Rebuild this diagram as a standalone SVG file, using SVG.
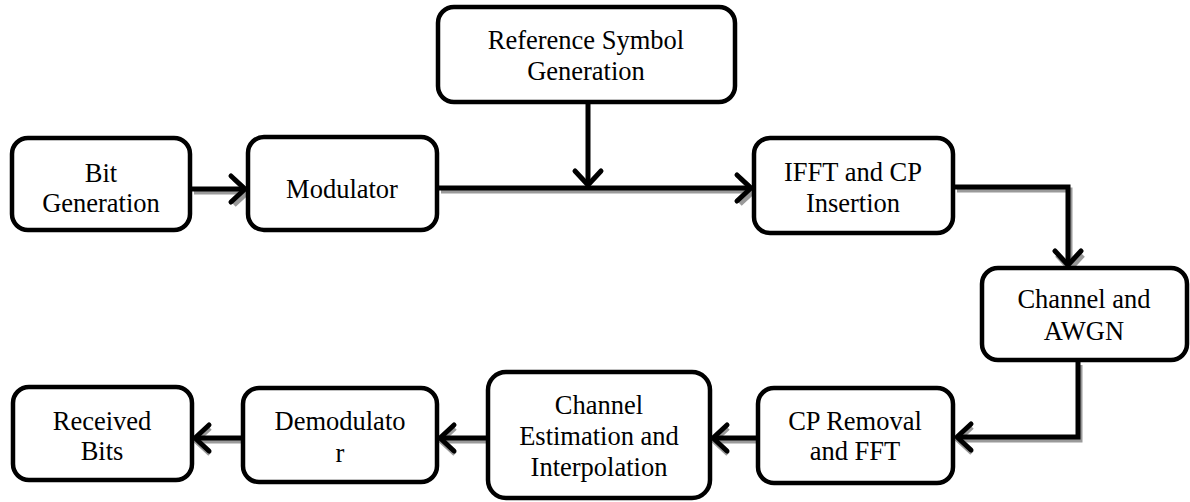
<svg xmlns="http://www.w3.org/2000/svg" width="1190" height="502" viewBox="0 0 1190 502">
<style>
.box{fill:#fff;stroke:#000;stroke-width:4.5}
.t{font-family:"Liberation Serif","Times New Roman",serif;font-size:26.5px;fill:#000;text-anchor:middle}
.ln{fill:none;stroke:#000;stroke-width:5}
.hd{fill:none;stroke:#000;stroke-width:5;stroke-linecap:round;stroke-linejoin:round}
.sh{fill:none;stroke:#9a9a9a;stroke-width:5}
</style>
<rect width="1190" height="502" fill="#fff"/>
<g id="connectors">
<g transform="translate(2,3)">
<path class="sh" d="M192,189 L246,189 M232,176 L246,189 L232,202"/>
<path class="sh" d="M439,188 L752,188 M738,175 L752,188 L738,201"/>
<path class="sh" d="M955,187 L1068,187 L1068,266 M1055,252 L1068,266 L1081,252"/>
<path class="sh" d="M1078,362 L1078,437 L956,437 M970,424 L956,437 L970,450"/>
<path class="sh" d="M756,438 L712,438 M726,425 L712,438 L726,451"/>
<path class="sh" d="M486,438 L439,438 M453,425 L439,438 L453,451"/>
<path class="sh" d="M241,438 L194,438 M208,425 L194,438 L208,451"/>
</g>
<path class="ln" d="M192,189 L244,189"/><path class="hd" d="M231,176 L245,189 L231,202"/>
<path class="ln" d="M439,188 L750,188"/><path class="hd" d="M737,175 L751,188 L737,201"/>
<path class="ln" d="M588,104 L588,184"/><path class="hd" d="M575,171 L588,185 L601,171"/>
<path class="ln" d="M955,187 L1068,187 L1068,264"/><path class="hd" d="M1055,251 L1068,265 L1081,251"/>
<path class="ln" d="M1078,362 L1078,437 L958,437"/><path class="hd" d="M971,424 L957,437 L971,450"/>
<path class="ln" d="M756,438 L714,438"/><path class="hd" d="M727,425 L713,438 L727,451"/>
<path class="ln" d="M486,438 L441,438"/><path class="hd" d="M454,425 L440,438 L454,451"/>
<path class="ln" d="M241,438 L196,438"/><path class="hd" d="M209,425 L195,438 L209,451"/>
</g>
<g id="bitgen"><rect class="box" x="12" y="138" width="178" height="92" rx="16"/><text class="t" x="101" y="182">Bit</text><text class="t" x="101" y="212">Generation</text></g>
<g id="modulator"><rect class="box" x="248" y="137" width="189" height="93" rx="16"/><text class="t" x="342" y="198">Modulator</text></g>
<g id="refsym"><rect class="box" x="438" y="7" width="297" height="95" rx="16"/><text class="t" x="586" y="49">Reference Symbol</text><text class="t" x="586" y="80">Generation</text></g>
<g id="ifft"><rect class="box" x="754" y="138" width="199" height="95" rx="16"/><text class="t" x="853" y="181">IFFT and CP</text><text class="t" x="853" y="212">Insertion</text></g>
<g id="channel"><rect class="box" x="982" y="268" width="205" height="92" rx="16"/><text class="t" x="1084" y="308">Channel and</text><text class="t" x="1084" y="340">AWGN</text></g>
<g id="cpremoval"><rect class="box" x="758" y="388" width="195" height="95" rx="16"/><text class="t" x="855" y="430">CP Removal</text><text class="t" x="855" y="460">and FFT</text></g>
<g id="chest"><rect class="box" x="488" y="372" width="222" height="126" rx="18"/><text class="t" x="599" y="414">Channel</text><text class="t" x="599" y="445">Estimation and</text><text class="t" x="599" y="476">Interpolation</text></g>
<g id="demod"><rect class="box" x="243" y="388" width="194" height="94" rx="16"/><text class="t" x="340" y="430">Demodulato</text><text class="t" x="340" y="462">r</text></g>
<g id="rxbits"><rect class="box" x="13" y="387" width="179" height="93" rx="16"/><text class="t" x="102" y="430">Received</text><text class="t" x="102" y="460">Bits</text></g>
</svg>
